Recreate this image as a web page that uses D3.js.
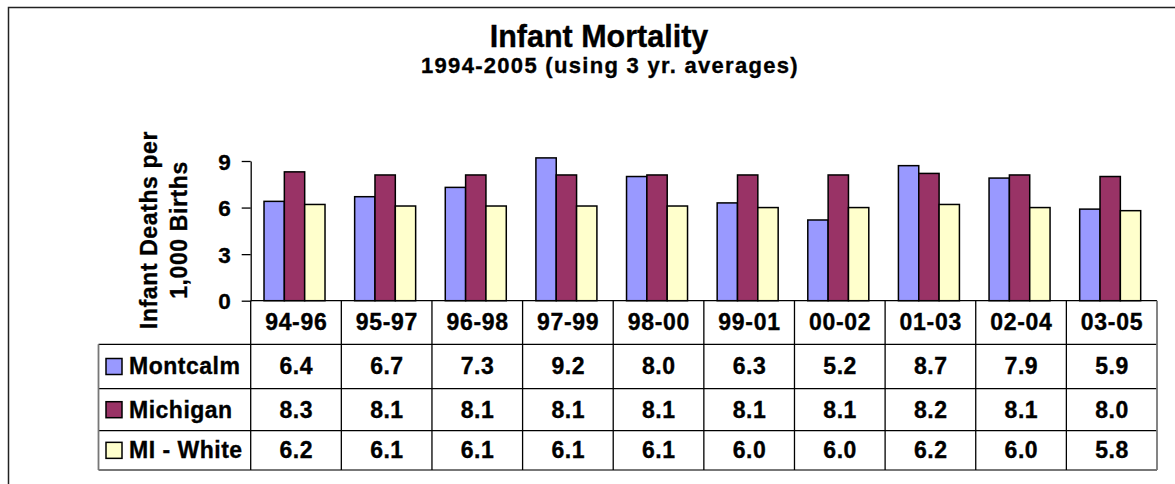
<!DOCTYPE html>
<html>
<head>
<meta charset="utf-8">
<script src="https://cdn.jsdelivr.net/npm/d3@7"></script>
<style>
  body { margin: 0; background: #fff; }
  svg text { font-family: "Liberation Sans", Arial, sans-serif; font-weight: bold; fill: #000; stroke: #000; stroke-width: 0.35px; }
</style>
</head>
<body>
<svg width="1175" height="484"></svg>
<script>
let svg = d3.select("svg");

// data
let periods = ['94-96', '95-97', '96-98', '97-99', '98-00', '99-01', '00-02', '01-03', '02-04', '03-05'];
let seriesNames = ['Montcalm', 'Michigan', 'MI - White'];
let montcalm = [6.4, 6.7, 7.3, 9.2, 8.0, 6.3, 5.2, 8.7, 7.9, 5.9];
let michigan = [8.3, 8.1, 8.1, 8.1, 8.1, 8.1, 8.1, 8.2, 8.1, 8.0];
let miWhite = [6.2, 6.1, 6.1, 6.1, 6.1, 6.0, 6.0, 6.2, 6.0, 5.8];
let yTicks = [0, 3, 6, 9];

let seriesValues = [montcalm, michigan, miWhite];
let colors = ['#9999ff', '#993366', '#ffffcc'];

// layout
let plotLeft = 250.7, plotRight = 1157, plotTop = 161, plotBottom = 300.7;
let tableLeft = 98.5;
let rowLines = [300.7, 344.3, 388.7, 430.7, 470];
let fontsize = 23;
let spacing = "0.5px";

// outer frame
svg.append("rect")
    .attr("x", 8.5).attr("y", 7.5)
    .attr("width", 1250).attr("height", 520)
    .attr("fill", "none").attr("stroke", "#222").attr("stroke-width", 1.5);

// titles
svg.append("text")
    .attr("x", 599).attr("y", 47)
    .attr("text-anchor", "middle")
    .style("font-size", "30.5px")
    .text("Infant Mortality");
svg.append("text")
    .attr("x", 610).attr("y", 73)
    .attr("text-anchor", "middle")
    .style("font-size", "22px")
    .style("letter-spacing", "1.3px")
    .text("1994-2005 (using 3 yr. averages)");

// scales
let x0 = d3.scaleBand().domain(periods).range([plotLeft, plotRight]);
let x1 = d3.scaleBand().domain(seriesNames).range([0, 61]);
let y = d3.scaleLinear().domain([0, 9]).range([plotBottom, plotTop]);

// y axis
let yAxis = svg.append("g")
    .attr("transform", `translate(${plotLeft},0)`)
    .call(d3.axisLeft(y).tickValues(yTicks).tickSize(9).tickSizeOuter(0).tickPadding(11));
yAxis.select(".domain").attr("stroke", "#000").attr("stroke-width", 1.3);
yAxis.selectAll(".tick line").attr("stroke", "#000").attr("stroke-width", 1.3);
yAxis.selectAll(".tick text")
    .style("font-size", "22.5px")
    .style("font-family", '"Liberation Sans", Arial, sans-serif')
    .style("font-weight", "bold")
    .attr("dy", "0.36em");

// y axis title
let yTitle = svg.append("text")
    .attr("transform", "translate(157,230) rotate(-90)")
    .attr("text-anchor", "middle")
    .style("font-size", fontsize + "px")
    .style("letter-spacing", "0.6px");
yTitle.append("tspan").attr("x", 0).attr("y", 0).text("Infant Deaths per");
yTitle.append("tspan").attr("x", 0).attr("y", 30).text("1,000 Births");

// bars
let groupOffset = (x0.bandwidth() - 61) / 2 - 1.5;
seriesValues.forEach((vals, s) => {
    svg.append("g").selectAll("rect")
        .data(vals)
        .join("rect")
        .attr("x", (d, i) => x0(periods[i]) + groupOffset + x1(seriesNames[s]))
        .attr("y", d => y(d))
        .attr("width", x1.bandwidth())
        .attr("height", d => plotBottom - y(d))
        .attr("fill", colors[s])
        .attr("stroke", "#000")
        .attr("stroke-width", 1.5);
});

// data table
let table = svg.append("g");
// horizontal lines
rowLines.forEach((ly, i) => {
    let last = i === rowLines.length - 1;
    table.append("line")
        .attr("x1", i === 0 ? plotLeft : tableLeft).attr("x2", plotRight)
        .attr("y1", ly).attr("y2", ly)
        .attr("stroke", last ? "#777" : "#000")
        .attr("stroke-width", last ? 1.8 : 1.3);
});
// left border
table.append("line")
    .attr("x1", tableLeft).attr("x2", tableLeft)
    .attr("y1", rowLines[1]).attr("y2", rowLines[4])
    .attr("stroke", "#777").attr("stroke-width", 1.8);
// column dividers
periods.forEach((p, i) => {
    table.append("line")
        .attr("x1", x0(p)).attr("x2", x0(p))
        .attr("y1", plotBottom).attr("y2", rowLines[4])
        .attr("stroke", "#000").attr("stroke-width", 1.3);
});
table.append("line")
    .attr("x1", plotRight).attr("x2", plotRight)
    .attr("y1", plotBottom).attr("y2", rowLines[4])
    .attr("stroke", "#777").attr("stroke-width", 1.8);

// header labels
periods.forEach(p => {
    table.append("text")
        .attr("x", x0(p) + x0.bandwidth() / 2 + 0.3)
        .attr("y", (rowLines[0] + rowLines[1]) / 2 + fontsize * 0.34)
        .attr("text-anchor", "middle")
        .style("font-size", fontsize + "px")
        .style("letter-spacing", "0.7px")
        .text(p);
});

// series rows
seriesNames.forEach((name, s) => {
    let cy = (rowLines[s + 1] + rowLines[s + 2]) / 2;
    table.append("rect")
        .attr("x", 106).attr("y", cy - 8)
        .attr("width", 16).attr("height", 16)
        .attr("fill", colors[s]).attr("stroke", "#000").attr("stroke-width", 1.5);
    table.append("text")
        .attr("x", 129).attr("y", cy + fontsize * 0.34)
        .style("font-size", fontsize + "px")
        .style("letter-spacing", spacing)
        .text(name);
    seriesValues[s].forEach((v, i) => {
        table.append("text")
            .attr("x", x0(periods[i]) + x0.bandwidth() / 2 + 0.3)
            .attr("y", cy + fontsize * 0.34)
            .attr("text-anchor", "middle")
            .style("font-size", fontsize + "px")
            .style("letter-spacing", spacing)
            .text(v.toFixed(1));
    });
});
</script>
</body>
</html>
